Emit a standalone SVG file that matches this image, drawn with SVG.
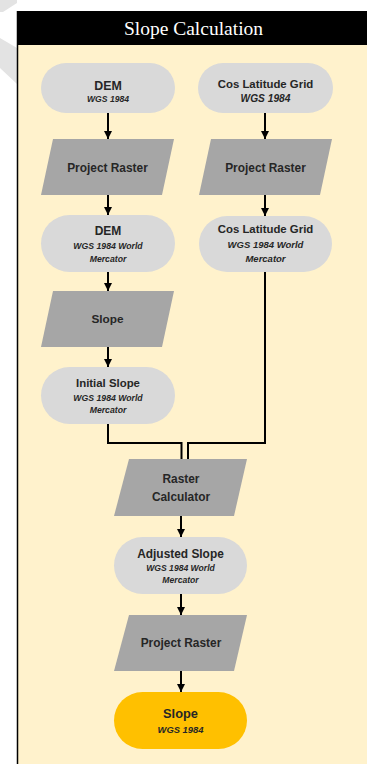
<svg xmlns="http://www.w3.org/2000/svg" width="367" height="764" viewBox="0 0 367 764">
<defs>
<style>
.t{font-family:"Liberation Sans",Arial,sans-serif;font-weight:bold;fill:#262626;text-anchor:middle}
.s{font-family:"Liberation Sans",Arial,sans-serif;font-weight:bold;font-style:italic;fill:#262626;text-anchor:middle}
.term{fill:#D9D9D9}
.proc{fill:#A6A6A6}
.ln{fill:none;stroke:#000;stroke-width:2}
</style>
<marker id="ah" viewBox="0 0 10 10" refX="10" refY="5" markerWidth="4" markerHeight="4" markerUnits="strokeWidth" orient="auto">
<path d="M0,0 L10,5 L0,10 z" fill="#000"/>
</marker>
</defs>
<rect width="367" height="764" fill="#fff"/>
<polygon points="0,0 17,0 17,3 3,12 0,12" fill="#E3E3E3"/>
<polygon points="0,38 17,48 17,84 0,68" fill="#E3E3E3"/>
<rect x="17" y="44" width="350" height="720" fill="#FFF2CC"/>
<rect x="17" y="11" width="350" height="34" fill="#000"/>
<line x1="17.5" y1="11" x2="17.5" y2="764" stroke="#000" stroke-width="1.5"/>
<text x="193.5" y="35" font-family="Liberation Serif,Times New Roman,serif" font-size="19.5" fill="#fff" text-anchor="middle">Slope Calculation</text>

<g id="connectors">
<line class="ln" x1="108" y1="113" x2="108" y2="139" marker-end="url(#ah)"/>
<line class="ln" x1="265" y1="113" x2="265" y2="139" marker-end="url(#ah)"/>
<line class="ln" x1="108" y1="195" x2="108" y2="215" marker-end="url(#ah)"/>
<line class="ln" x1="265" y1="195" x2="265" y2="216" marker-end="url(#ah)"/>
<line class="ln" x1="108" y1="271" x2="108" y2="291" marker-end="url(#ah)"/>
<line class="ln" x1="108" y1="347" x2="108" y2="367" marker-end="url(#ah)"/>
<polyline class="ln" points="108,424 108,443 181.5,443 181.5,459"/>
<polyline class="ln" points="265,271 265,443 188,443 188,459"/>
<line class="ln" x1="181" y1="516" x2="181" y2="537" marker-end="url(#ah)"/>
<line class="ln" x1="181" y1="594" x2="181" y2="615" marker-end="url(#ah)"/>
<line class="ln" x1="181" y1="671" x2="181" y2="692" marker-end="url(#ah)"/>
</g>

<g id="dem">
<rect class="term" x="41" y="63" width="134" height="50" rx="25"/>
<text class="t" x="108" y="90" font-size="12.4">DEM</text>
<text class="s" x="108" y="102" font-size="8.6">WGS 1984</text>
</g>
<g id="coslat">
<rect class="term" x="198" y="63" width="135" height="50" rx="25"/>
<text class="t" x="265.5" y="88" font-size="11.4">Cos Latitude Grid</text>
<text class="s" x="265.5" y="102" font-size="10.2">WGS 1984</text>
</g>
<g id="project1">
<polygon class="proc" points="53,139 174,139 162,195 41,195"/>
<text class="t" x="107.5" y="172" font-size="11.9">Project Raster</text>
</g>
<g id="project2">
<polygon class="proc" points="211,139 332,139 320,195 199,195"/>
<text class="t" x="265.5" y="172" font-size="11.9">Project Raster</text>
</g>
<g id="dem_merc">
<rect class="term" x="41" y="215" width="134" height="57" rx="28.5"/>
<text class="t" x="108" y="235" font-size="12">DEM</text>
<text class="s" x="108" y="249" font-size="8.7">WGS 1984 World</text>
<text class="s" x="108" y="262" font-size="8.7">Mercator</text>
</g>
<g id="coslat_merc">
<rect class="term" x="199" y="216" width="133" height="56" rx="28"/>
<text class="t" x="265.5" y="233" font-size="11.4">Cos Latitude Grid</text>
<text class="s" x="265.5" y="248" font-size="9.5">WGS 1984 World</text>
<text class="s" x="265.5" y="262" font-size="9.5">Mercator</text>
</g>
<g id="slope_tool">
<polygon class="proc" points="53,291 174,291 162,347 41,347"/>
<text class="t" x="107.5" y="323" font-size="11.8">Slope</text>
</g>
<g id="initial_slope">
<rect class="term" x="41" y="367" width="134" height="57" rx="28.5"/>
<text class="t" x="108" y="387" font-size="11.4">Initial Slope</text>
<text class="s" x="108" y="401" font-size="8.7">WGS 1984 World</text>
<text class="s" x="108" y="413" font-size="8.7">Mercator</text>
</g>
<g id="raster_calc">
<polygon class="proc" points="129,459 247,459 234,516 114,516"/>
<text class="t" x="181" y="483" font-size="11.9">Raster</text>
<text class="t" x="181" y="501" font-size="11.9">Calculator</text>
</g>
<g id="adjusted_slope">
<rect class="term" x="114" y="537" width="133" height="57" rx="28.5"/>
<text class="t" x="180.5" y="558" font-size="11.9">Adjusted Slope</text>
<text class="s" x="180.5" y="571" font-size="8.6">WGS 1984 World</text>
<text class="s" x="180.5" y="583" font-size="8.6">Mercator</text>
</g>
<g id="project3">
<polygon class="proc" points="129,615 247,615 234,671 114,671"/>
<text class="t" x="181" y="647" font-size="11.9">Project Raster</text>
</g>
<g id="slope_final">
<rect x="114" y="692" width="133" height="57" rx="28.5" fill="#FFC000"/>
<text class="t" x="180.5" y="718" font-size="12.8">Slope</text>
<text class="s" x="180.5" y="733" font-size="9.4">WGS 1984</text>
</g>
</svg>
